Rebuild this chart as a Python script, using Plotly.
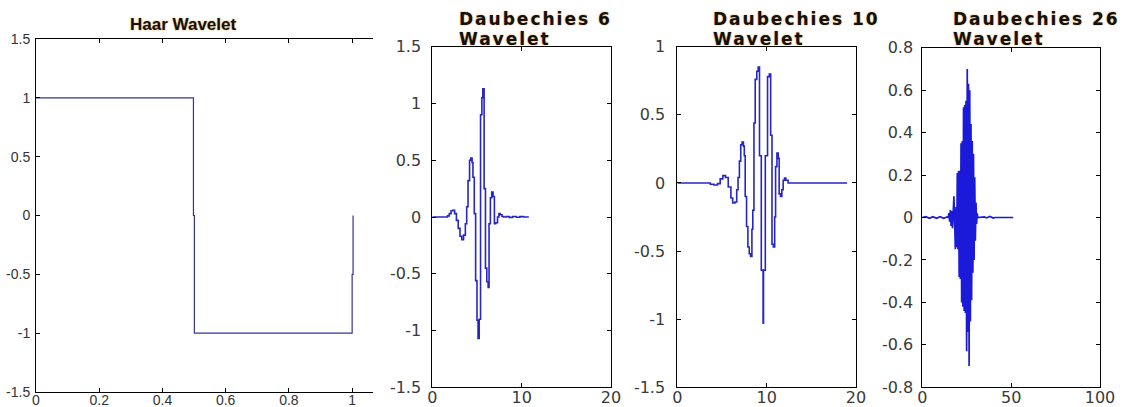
import plotly.graph_objects as go

# ---------------- data ----------------
haar_x = [0, 0.498, 0.498, 0.501, 0.501, 1.0, 1.0, 1.003, 1.003]
haar_y = [1, 1, 0, 0, -1, -1, -0.5, -0.5, 0]

db6_x = [0, 1.4, 1.7, 1.9, 2.1, 2.3, 2.5, 2.7, 2.9, 3.1, 3.3, 3.5, 3.7, 3.85, 4.0, 4.17,
         4.3, 4.45, 4.55, 4.7, 4.85, 5.0, 5.12, 5.25, 5.4, 5.55, 5.65, 5.8, 5.95, 6.1,
         6.25, 6.35, 6.5, 6.65, 6.8, 6.95, 7.1, 7.3, 7.45, 7.6, 7.8, 8.0, 8.3, 8.6, 9.0,
         9.4, 9.8, 10.2, 10.8]
db6_y = [0, 0, 0.01, 0.03, 0.055, 0.06, 0.03, -0.03, -0.10, -0.17, -0.20, -0.16, -0.06,
         0.09, 0.32, 0.50, 0.52, 0.48, 0.35, 0.03, -0.56, -0.91, -1.07, -0.90, 0.90, 1.05,
         1.13, 0.25, -0.45, -0.57, -0.62, -0.06, 0.17, 0.22, 0.18, -0.06, -0.05, 0.0, 0.03,
         0.02, 0.005, 0.0, 0.005, -0.003, 0.004, -0.002, 0.003, 0.0, 0.0]

db10_x = [0, 3.5, 3.7, 4.1, 4.5, 4.8, 5.1, 5.4, 5.7, 6.0, 6.2, 6.45, 6.65, 6.8, 6.95, 7.1,
          7.25, 7.4, 7.5, 7.6, 7.75, 7.9, 8.05, 8.2, 8.35, 8.45, 8.58, 8.72, 8.9, 9.05,
          9.2, 9.4, 9.6, 9.65, 9.85, 10.1, 10.3, 10.45, 10.6, 10.75, 10.9, 11.0, 11.15,
          11.3, 11.4, 11.55, 11.7, 11.85, 12.0, 12.15, 12.4, 19.0]
db10_y = [0, 0, -0.01, -0.015, -0.005, 0.03, 0.054, 0.04, -0.03, -0.11, -0.147, -0.14,
          -0.05, 0.04, 0.16, 0.28, 0.30, 0.27, 0.20, -0.10, -0.32, -0.47, -0.52, -0.54,
          -0.34, -0.20, 0.44, 0.76, 0.82, 0.85, 0.20, -0.64, -1.03, -0.64, 0.20, 0.78,
          0.80, 0.35, -0.45, -0.47, -0.25, 0.12, 0.22, 0.18, -0.08, -0.10, -0.05, 0.02,
          0.035, 0.02, 0.0, 0.0]

db26_x = [0, 2, 4, 6, 8, 10, 12, 14, 14.6, 15.0, 15.4, 15.8, 16.2, 16.6, 17.0, 17.4,
          17.8, 18.2, 18.6, 19.0, 19.35, 19.7, 20.05, 20.4, 20.75, 21.1, 21.45, 21.8,
          22.15, 22.5, 22.85, 23.2, 23.55, 23.9, 24.25, 24.6, 24.95, 25.3, 25.65, 26.0,
          26.35, 26.7, 27.05, 27.4, 27.75, 28.1, 28.45, 28.8, 29.15, 29.5, 29.85, 30.2,
          30.55, 30.9, 31.2, 35, 36, 38, 40, 41, 51.2]
db26_y = [0, 0.004, -0.004, 0.004, -0.004, 0.004, -0.004, 0.003, 0.0, 0.02, -0.02, 0.035,
          -0.04, 0.03, -0.05, 0.02, 0.10, -0.02, -0.15, 0.05, -0.14, 0.21, -0.15, 0.22,
          -0.28, 0.22, -0.29, 0.35, -0.40, 0.36, -0.42, 0.52, -0.44, 0.53, -0.45, 0.55,
          -0.63, 0.70, -0.54, 0.63, -0.70, 0.60, -0.49, 0.44, -0.39, 0.36, -0.26, 0.30,
          -0.20, 0.19, -0.11, 0.07, -0.03, 0.02, 0.0, 0.003, -0.002, 0.005, -0.003, 0.0, 0.0]

haar_ticks = [0, 0.2, 0.4, 0.6, 0.8, 1]
haar_ticktext = ["0", "0.2", "0.4", "0.6", "0.8", "1"]
y15_ticks = [-1.5, -1, -0.5, 0, 0.5, 1, 1.5]
y15_text = ["-1.5", "-1", "-0.5", "0", "0.5", "1", "1.5"]
y10_ticks = [-1.5, -1, -0.5, 0, 0.5, 1]
y10_text = ["-1.5", "-1", "-0.5", "0", "0.5", "1"]
y08_ticks = [-0.8, -0.6, -0.4, -0.2, 0, 0.2, 0.4, 0.6, 0.8]
y08_text = ["-0.8", "-0.6", "-0.4", "-0.2", "0", "0.2", "0.4", "0.6", "0.8"]
x20_ticks = [0, 10, 20]
x100_ticks = [0, 50, 100]

titles = ["Haar Wavelet", "Daubechies 6", "Daubechies 10", "Daubechies 26"]
subtitle = "Wavelet"

# ---------------- layout helpers ----------------
W, H = 1124, 407

def dx(a, b):
    return [a / W, b / W]

def dy(top, bottom):
    return [1 - bottom / H, 1 - top / H]

fig = go.Figure()
fig.add_trace(go.Scatter(x=haar_x, y=haar_y, mode="lines", line=dict(color="#34349c", width=1.2),
                         xaxis="x", yaxis="y", showlegend=False))
fig.add_trace(go.Scatter(x=db6_x, y=db6_y, mode="lines", line=dict(color="#2626c4", width=1.6, shape="hv"),
                         xaxis="x2", yaxis="y2", showlegend=False))
fig.add_trace(go.Scatter(x=db10_x, y=db10_y, mode="lines", line=dict(color="#2626c4", width=1.6, shape="hv"),
                         xaxis="x3", yaxis="y3", showlegend=False))
fig.add_trace(go.Scatter(x=db26_x, y=db26_y, mode="lines", line=dict(color="#1a1ad8", width=1.7),
                         xaxis="x4", yaxis="y4", showlegend=False))

small_font = dict(family="Liberation Sans, Arial, sans-serif", size=14, color="#333333")
big_font = dict(family="DejaVu Sans, sans-serif", size=16, color="#3a3a3a")

common = dict(showline=True, linecolor="black", linewidth=1, ticks="inside", ticklen=4,
              tickcolor="black", showgrid=False, zeroline=False, fixedrange=True,
              automargin=False)

fig.update_layout(
    width=W, height=H, margin=dict(l=0, r=0, t=0, b=0, pad=0, autoexpand=False),
    paper_bgcolor="white", plot_bgcolor="white",
    xaxis=dict(common, domain=dx(36, 373), range=[0, 1.066], tickvals=haar_ticks,
               ticktext=haar_ticktext, mirror="ticks", anchor="y", tickfont=small_font,
               ticklabelstandoff=-5),
    yaxis=dict(common, domain=dy(39, 392), range=[-1.5, 1.5], tickvals=y15_ticks,
               ticktext=y15_text, mirror=False, anchor="x", tickfont=small_font,
               ticklabelstandoff=2),
    xaxis2=dict(common, domain=dx(432.3, 611), range=[0, 20], tickvals=x20_ticks,
                mirror="ticks", anchor="y2", tickfont=big_font, ticklabelstandoff=-5),
    yaxis2=dict(common, domain=dy(46.7, 387.3), range=[-1.5, 1.5], tickvals=y15_ticks,
                ticktext=y15_text, mirror="ticks", anchor="x2", tickfont=big_font,
                ticklabelstandoff=7),
    xaxis3=dict(common, domain=dx(677.3, 856), range=[0, 20], tickvals=x20_ticks,
                mirror="ticks", anchor="y3", tickfont=big_font, ticklabelstandoff=-5),
    yaxis3=dict(common, domain=dy(46.7, 387.3), range=[-1.5, 1], tickvals=y10_ticks,
                ticktext=y10_text, mirror="ticks", anchor="x3", tickfont=big_font,
                ticklabelstandoff=8),
    xaxis4=dict(common, domain=dx(922.3, 1100), range=[0, 100], tickvals=x100_ticks,
                mirror="ticks", anchor="y4", tickfont=big_font, ticklabelstandoff=-5),
    yaxis4=dict(common, domain=dy(47.7, 387.3), range=[-0.8, 0.8], tickvals=y08_ticks,
                ticktext=y08_text, mirror="ticks", anchor="x4", tickfont=big_font,
                ticklabelstandoff=5),
)

title_font = dict(family="DejaVu Sans, sans-serif", size=17, color="#111111",
                  weight="bold", shadow="0px 0px 2px #e0a040")
haar_font = dict(family="Liberation Sans, Arial, sans-serif", size=17, color="#111111",
                 weight="bold", shadow="0px 0px 2px #e0a040")

def spaced(t, px):
    return "<span style='letter-spacing:%spx'>%s</span>" % (px, t)

anns = [dict(text=titles[0], x=183 / W, y=1 - 24 / H, xref="paper", yref="paper",
             xanchor="center", yanchor="middle", showarrow=False, font=haar_font,
             borderpad=0)]
for name, left in zip(titles[1:], [458, 711.7, 951.7]):
    anns.append(dict(text=spaced(name, 2), x=left / W, y=1 - 18.6 / H, xref="paper",
                     yref="paper", xanchor="left", yanchor="middle", showarrow=False,
                     font=title_font, borderpad=0))
    anns.append(dict(text=spaced(subtitle, 2), x=left / W, y=1 - 38.8 / H, xref="paper",
                     yref="paper", xanchor="left", yanchor="middle", showarrow=False,
                     font=title_font, borderpad=0))
fig.update_layout(annotations=anns)

fig.write_html("out.html", config={"responsive": False, "displayModeBar": False},
               post_script="document.body.style.margin='0';document.body.style.overflow='hidden';")
